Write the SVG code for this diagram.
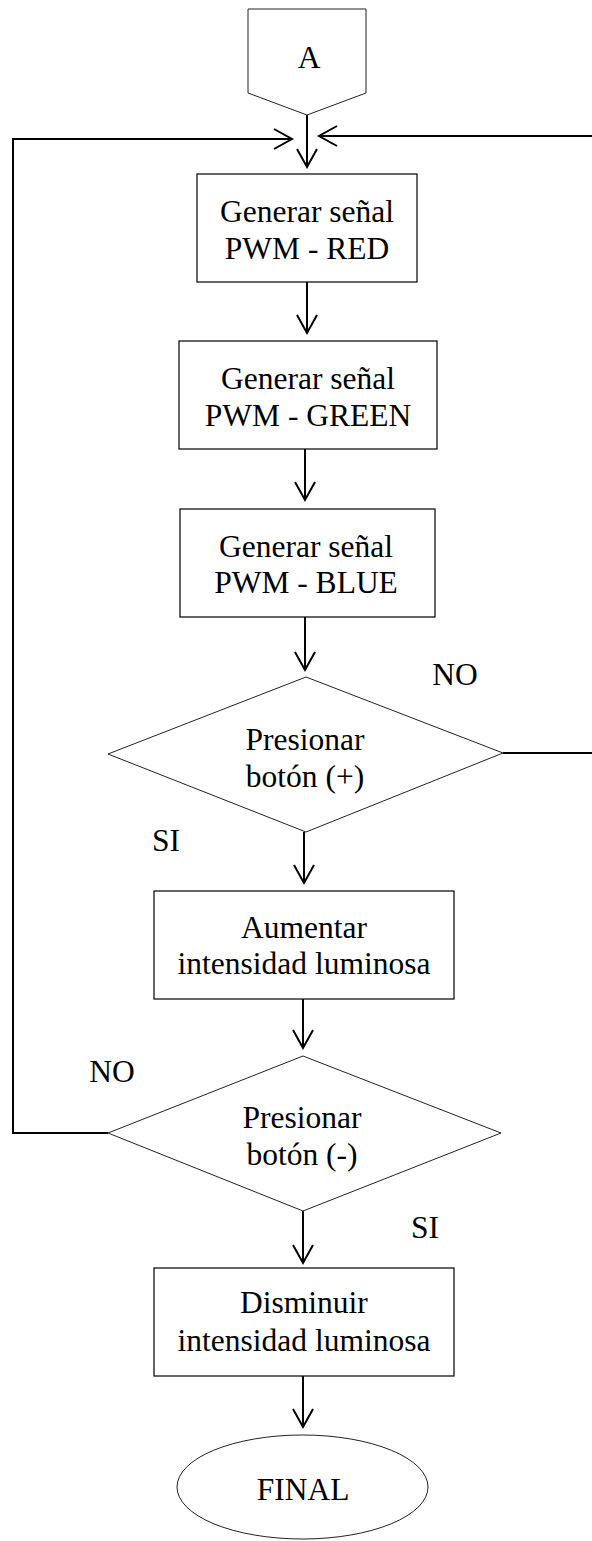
<svg xmlns="http://www.w3.org/2000/svg" width="592" height="1541" viewBox="0 0 592 1541">
<style>
.shape{fill:#fff;stroke:#000;stroke-width:1.2}
.thin{fill:#fff;stroke:#222;stroke-width:1}
.conn{fill:none;stroke:#000;stroke-width:2}
.t{font-family:"Liberation Serif","Times New Roman",serif;font-size:31.5px;fill:#000;text-anchor:middle}
</style>
<defs>
<marker id="arr" markerUnits="userSpaceOnUse" viewBox="-22 -12 26 24" markerWidth="26" markerHeight="24" refX="0" refY="0" orient="auto" overflow="visible">
<path d="M-18,-10 L0,0 L-18,10" fill="none" stroke="#000" stroke-width="2"/>
</marker>
</defs>
<rect width="592" height="1541" fill="#fff"/>
<g id="connectors">
<line class="conn" x1="307" y1="115" x2="307" y2="167" marker-end="url(#arr)"/>
<polyline class="conn" points="13,1133 108,1133"/>
<polyline class="conn" points="13,1134 13,139 292,139" marker-end="url(#arr)"/>
<polyline class="conn" points="592,136 319,136" marker-end="url(#arr)"/>
<line class="conn" x1="503" y1="753" x2="592" y2="753"/>
<line class="conn" x1="307" y1="282" x2="307" y2="333" marker-end="url(#arr)"/>
<line class="conn" x1="305" y1="449" x2="305" y2="500" marker-end="url(#arr)"/>
<line class="conn" x1="305" y1="617" x2="305" y2="670" marker-end="url(#arr)"/>
<line class="conn" x1="304" y1="832" x2="304" y2="883" marker-end="url(#arr)"/>
<line class="conn" x1="303" y1="999" x2="303" y2="1048" marker-end="url(#arr)"/>
<line class="conn" x1="303" y1="1211" x2="303" y2="1263" marker-end="url(#arr)"/>
<line class="conn" x1="303" y1="1376" x2="303" y2="1427" marker-end="url(#arr)"/>
</g>
<g id="nodeA">
<polygon class="thin" points="248,9 366,9 366,93 307,115 248,93"/>
<text class="t" x="309" y="68">A</text>
</g>
<g id="red">
<rect class="shape" x="197" y="174" width="220" height="108"/>
<text class="t" x="307" y="222">Generar señal</text>
<text class="t" x="307" y="259">PWM - RED</text>
</g>
<g id="green">
<rect class="shape" x="179" y="341" width="258" height="108"/>
<text class="t" x="308" y="389">Generar señal</text>
<text class="t" x="308" y="426">PWM - GREEN</text>
</g>
<g id="blue">
<rect class="shape" x="180" y="509" width="255" height="108"/>
<text class="t" x="306" y="557">Generar señal</text>
<text class="t" x="306" y="593">PWM - BLUE</text>
</g>
<g id="dec1">
<polygon class="thin" points="306,677 503,753 306,832 108,754"/>
<text class="t" x="305" y="750">Presionar</text>
<text class="t" x="305" y="787">botón (+)</text>
</g>
<text class="t" x="455" y="685">NO</text>
<text class="t" x="166" y="851">SI</text>
<g id="inc">
<rect class="shape" x="154" y="891" width="300" height="108"/>
<text class="t" x="304" y="938">Aumentar</text>
<text class="t" x="304" y="974">intensidad luminosa</text>
</g>
<g id="dec2">
<polygon class="thin" points="303,1056 501,1133 303,1211 108,1133"/>
<text class="t" x="302" y="1128">Presionar</text>
<text class="t" x="302" y="1165">botón (-)</text>
</g>
<text class="t" x="112" y="1082">NO</text>
<text class="t" x="425" y="1238">SI</text>
<g id="decr">
<rect class="shape" x="154" y="1268" width="300" height="108"/>
<text class="t" x="304" y="1313">Disminuir</text>
<text class="t" x="304" y="1351">intensidad luminosa</text>
</g>
<g id="final">
<ellipse class="thin" cx="302.5" cy="1487" rx="125.5" ry="52"/>
<text class="t" x="303" y="1500">FINAL</text>
</g>
</svg>
